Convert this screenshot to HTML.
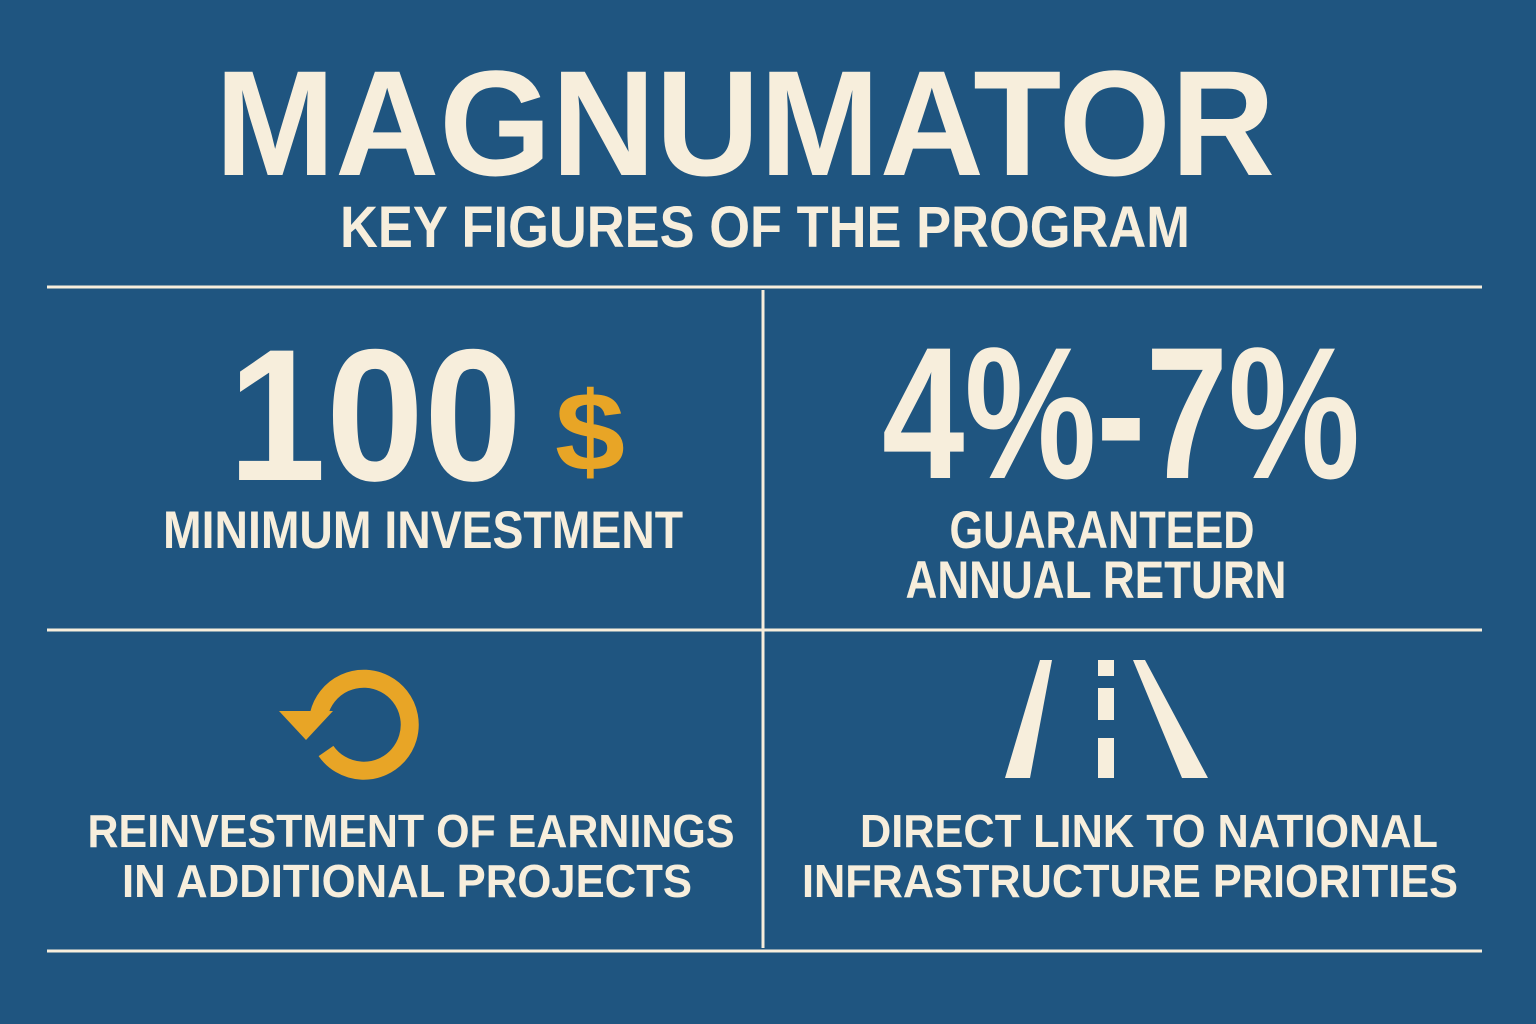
<!DOCTYPE html>
<html><head><meta charset="utf-8"><style>
html,body{margin:0;padding:0;background:#1f5580;}
svg{display:block}
text{font-family:"Liberation Sans",sans-serif;font-weight:bold;fill:#f7eedc}
</style></head><body>
<svg width="1536" height="1024" viewBox="0 0 1536 1024">
<rect width="1536" height="1024" fill="#1f5580"/>
<text x="745" y="175" font-size="150" text-anchor="middle" textLength="1060" lengthAdjust="spacingAndGlyphs">MAGNUMATOR</text>
<text x="765" y="247" font-size="58" text-anchor="middle" textLength="850" lengthAdjust="spacingAndGlyphs">KEY FIGURES OF THE PROGRAM</text>
<g stroke="#f7eedc" stroke-width="3">
<line x1="47" y1="287" x2="1482" y2="287"/>
<line x1="47" y1="630" x2="1482" y2="630"/>
<line x1="47" y1="951" x2="1482" y2="951"/>
<line x1="763" y1="290" x2="763" y2="948"/>
</g>
<text x="228" y="480" font-size="188" textLength="294" lengthAdjust="spacingAndGlyphs">100</text>
<text x="555" y="470" font-size="112" style="fill:#e8a526" textLength="70" lengthAdjust="spacingAndGlyphs">$</text>
<text x="423" y="548" font-size="53" text-anchor="middle" textLength="520" lengthAdjust="spacingAndGlyphs">MINIMUM INVESTMENT</text>
<text x="1121" y="478" font-size="188" text-anchor="middle" textLength="478" lengthAdjust="spacingAndGlyphs">4%-7%</text>
<text x="1102" y="548" font-size="53" text-anchor="middle" textLength="305" lengthAdjust="spacingAndGlyphs">GUARANTEED</text>
<text x="1096" y="598" font-size="53" text-anchor="middle" textLength="381" lengthAdjust="spacingAndGlyphs">ANNUAL RETURN</text>
<g>
<path d="M319 714 A46 46 0 1 1 326 751" fill="none" stroke="#e8a526" stroke-width="18"/>
<polygon points="279,711 333,711 306,740" fill="#e8a526"/>
</g>
<text x="411" y="847" font-size="46" text-anchor="middle" textLength="647" lengthAdjust="spacingAndGlyphs">REINVESTMENT OF EARNINGS</text>
<text x="407" y="897" font-size="46" text-anchor="middle" textLength="570" lengthAdjust="spacingAndGlyphs">IN ADDITIONAL PROJECTS</text>
<g fill="#f7eedc">
<polygon points="1040,660 1052,660 1030,778 1005,778"/>
<polygon points="1133,660 1145,660 1208,778 1182,778"/>
<rect x="1098" y="660" width="16" height="16"/>
<rect x="1098" y="688" width="16" height="32"/>
<rect x="1098" y="738" width="16" height="40"/>
</g>
<text x="1149" y="847" font-size="46" text-anchor="middle" textLength="578" lengthAdjust="spacingAndGlyphs">DIRECT LINK TO NATIONAL</text>
<text x="1130" y="897" font-size="46" text-anchor="middle" textLength="656" lengthAdjust="spacingAndGlyphs">INFRASTRUCTURE PRIORITIES</text>
</svg>
</body></html>
